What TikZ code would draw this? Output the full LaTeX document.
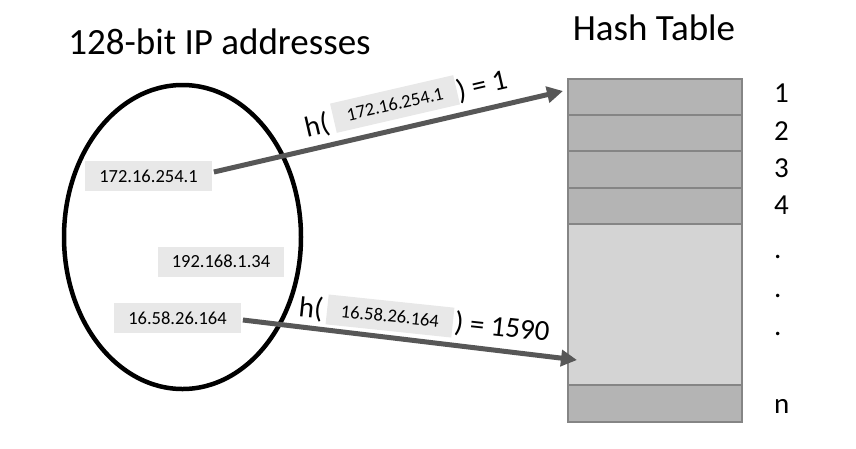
\documentclass[tikz,border=0pt]{standalone}
\usepackage{fontspec}
\setmainfont{Carlito}
\usetikzlibrary{arrows.meta}
\definecolor{ipfill}{HTML}{E8E8E8}
\definecolor{slotdark}{HTML}{B4B4B4}
\definecolor{slotlight}{HTML}{D4D4D4}
\definecolor{slotedge}{HTML}{858585}
\definecolor{arrowgray}{HTML}{575757}
\begin{document}
\begin{tikzpicture}[
        x=1pt, y=-1pt,
        heading/.style={font=\fontsize{37}{42}\selectfont, anchor=base},
        ipbox/.style={fill=ipfill, font=\fontsize{18.5}{20}\selectfont, inner xsep=14pt, inner ysep=0pt, minimum height=30pt},
        fxtext/.style={font=\fontsize{29}{33}\selectfont, inner sep=0pt},
        slot/.style={draw=slotedge, line width=1.3pt, fill=slotdark, minimum width=174pt, inner sep=0pt, outer sep=0pt, anchor=north west},
        idx/.style={font=\fontsize{29}{33}\selectfont, anchor=base west, inner sep=0pt},
        hash/.style={-{Triangle[length=16pt,width=16pt]}, line width=5pt, arrowgray}
    ]
        \useasboundingbox (0,0) rectangle (856,448);

        % Key space
        \node[heading] (keystitle) at (219.5,54) {128-bit IP addresses};
        \draw[line width=4.5pt] (182.5,237) ellipse [x radius=118.5, y radius=152];
        \node[ipbox] (ip1) at (148.5,176) {172.16.254.1};
        \node[ipbox] (ip2) at (221,261.5) {192.168.1.34};
        \node[ipbox] (ip3) at (177.5,318) {16.58.26.164};

        % Hash table
        \node[heading] (tabletitle) at (654,40) {Hash Table};
        \node[slot, minimum height=36pt] (row1) at (568,79) {};
        \node[slot, minimum height=36pt] (row2) at (568,115) {};
        \node[slot, minimum height=37pt] (row3) at (568,151) {};
        \node[slot, minimum height=36pt] (row4) at (568,188) {};
        \node[slot, minimum height=161pt, fill=slotlight] (rowgap) at (568,224) {};
        \node[slot, minimum height=37pt] (rown) at (568,385) {};
        \node[idx] (i1) at (774,102) {1};
        \node[idx] (i2) at (774,140) {2};
        \node[idx] (i3) at (774,177) {3};
        \node[idx] (i4) at (774,214) {4};
        \node[idx] (d1) at (774,258) {.};
        \node[idx] (d2) at (774,297) {.};
        \node[idx] (d3) at (774,335) {.};
        \node[idx] (in) at (774,413) {n};

        % Hash arrows
        \coordinate (hit1) at (563,91);
        \coordinate (hit2) at (577,360);
        \draw[hash] ([shift={(2,-4)}]ip1.east) -- (hit1);
        \draw[hash] ([shift={(2,2)}]ip3.east) -- (hit2);

        % Labels on the arrows
        \node[fxtext, rotate=13] (h1) at (317,126) {h(};
        \node[ipbox, rotate=13] (arg1) at (395,104) {172.16.254.1};
        \node[fxtext, rotate=13] (res1) at (482,86) {) = 1};
        \node[fxtext, rotate=-6] (h2) at (311,309) {h(};
        \node[ipbox, rotate=-6] (arg2) at (390,316) {16.58.26.164};
        \node[fxtext, rotate=-6] (res2) at (502,328) {) = 1590};
    \end{tikzpicture}
\end{document}
